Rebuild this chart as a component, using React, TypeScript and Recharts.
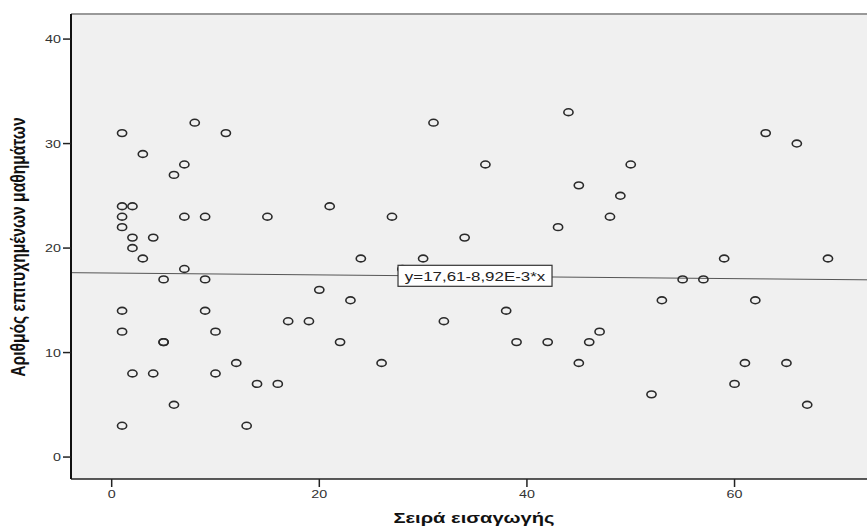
import React from 'react';
import {
  ScatterChart,
  Scatter,
  XAxis,
  YAxis,
  ReferenceArea,
  ReferenceLine,
  ReferenceDot
} from 'recharts';

// entry order (x) and number of passed courses (y), one pair per student
const entryOrder = [
  1, 8, 11, 3, 7, 6, 1, 2, 1, 7, 9, 1, 2, 4, 2, 3, 7, 5, 9, 1, 9, 1, 10, 5, 5, 2, 4, 10, 12, 6, 1, 13,
  31, 36, 21, 15, 27, 34, 24, 30, 28, 20, 23, 17, 19, 32, 22, 26, 14, 16,
  44, 50, 45, 49, 48, 43, 59, 55, 57, 53, 38, 39, 42, 46, 47, 45, 52, 60, 61, 63, 66, 69, 62, 65, 67
];
const coursesPassed = [
  31, 32, 31, 29, 28, 27, 24, 24, 23, 23, 23, 22, 21, 21, 20, 19, 18, 17, 17, 14, 14, 12, 12, 11, 11, 8, 8, 8, 9, 5, 3, 3,
  32, 28, 24, 23, 23, 21, 19, 19, 18, 16, 15, 13, 13, 13, 11, 9, 7, 7,
  33, 28, 26, 25, 23, 22, 19, 17, 17, 15, 14, 11, 11, 11, 12, 9, 6, 7, 9, 31, 30, 19, 15, 9, 5
];

const xTicks = [0, 20, 40, 60];
const yTicks = [0, 10, 20, 30, 40];

// fitted line y = a + b*x
const intercept = 17.61;
const slope = -8.92e-3;
const fitLabel = 'y=17,61-8,92E-3*x';
const fitLabelAt = 35;

const X_MIN = -3.92;
const X_MAX = 72.76;
const Y_MIN = -2.1;
const Y_MAX = 42.4;

const points = entryOrder.map((x, i) => ({ x, y: coursesPassed[i] }));
const fit = (x: number) => intercept + slope * x;

const STRETCH = 1.3;
const tickFont = '"Liberation Sans", Arial, sans-serif';

const XTick = ({ x, y, payload }: any) => (
  <g transform={`translate(${x},${y})`}>
    <text transform={`scale(${STRETCH},1)`} textAnchor="middle" dy={9} fontSize={11} fill="#333" fontFamily={tickFont}>
      {payload.value}
    </text>
  </g>
);

const YTick = ({ x, y, payload }: any) => (
  <g transform={`translate(${x},${y})`}>
    <text transform={`scale(${STRETCH},1)`} textAnchor="end" dy={4} fontSize={11} fill="#333" fontFamily={tickFont}>
      {payload.value}
    </text>
  </g>
);

const XTitle = () => (
  <g transform="translate(474,523)">
    <text transform={`scale(${STRETCH},1)`} textAnchor="middle" fontSize={15.5} fontWeight="bold" fill="#111" fontFamily={tickFont}>
      Σειρά εισαγωγής
    </text>
  </g>
);

const YTitle = () => (
  <g transform="translate(25,247)">
    <text transform={`rotate(-90) scale(1,${STRETCH})`} textAnchor="middle" fontSize={15.6} fontWeight="bold" fill="#111" fontFamily={tickFont}>
      Αριθμός επιτυχημένων μαθημάτων
    </text>
  </g>
);

const Ring = ({ cx, cy }: any) => (
  <ellipse cx={cx} cy={cy} rx={4.6} ry={3.4} fill="none" stroke="#2a2a2a" strokeWidth={1.6} />
);

const FitBox = ({ cx, cy }: any) => (
  <g transform={`translate(${cx},${cy})`}>
    <rect x={-77} y={-11} width={154} height={21} fill="#fff" stroke="#333" strokeWidth={1.2} />
    <g transform={`scale(${STRETCH},1)`}>
      <text textAnchor="middle" dy={5} fontSize={13} fill="#222" fontFamily={tickFont}>
        {fitLabel}
      </text>
    </g>
  </g>
);

export default function App() {
  return (
    <div style={{ position: 'absolute', left: 0, top: 0, background: '#fff' }}>
      <ScatterChart width={867} height={527} margin={{ top: 14, right: 0, bottom: 0, left: 0 }}>
        <ReferenceArea x1={X_MIN} x2={X_MAX} y1={Y_MIN} y2={Y_MAX} fill="#f0f0f0" fillOpacity={1} stroke="none" />
        <XAxis
          type="number"
          dataKey="x"
          domain={[X_MIN, X_MAX]}
          ticks={xTicks}
          allowDataOverflow
          height={48}
          tickSize={8}
          axisLine={{ stroke: '#222', strokeWidth: 1.5 }}
          tickLine={{ stroke: '#222', strokeWidth: 1.5 }}
          tick={<XTick />}
          label={<XTitle />}
        />
        <YAxis
          type="number"
          dataKey="y"
          domain={[Y_MIN, Y_MAX]}
          ticks={yTicks}
          allowDataOverflow
          width={71}
          tickSize={8}
          axisLine={{ stroke: '#111', strokeWidth: 2 }}
          tickLine={{ stroke: '#222', strokeWidth: 1.5 }}
          tick={<YTick />}
          label={<YTitle />}
        />
        <ReferenceLine y={Y_MAX} stroke="#999" strokeWidth={2} />
        <ReferenceLine
          segment={[
            { x: X_MIN, y: fit(X_MIN) },
            { x: X_MAX, y: fit(X_MAX) }
          ]}
          stroke="#555"
          strokeWidth={1}
        />
        <Scatter data={points} shape={<Ring />} isAnimationActive={false} />
        <ReferenceDot x={fitLabelAt} y={fit(fitLabelAt)} shape={<FitBox />} />
      </ScatterChart>
    </div>
  );
}
